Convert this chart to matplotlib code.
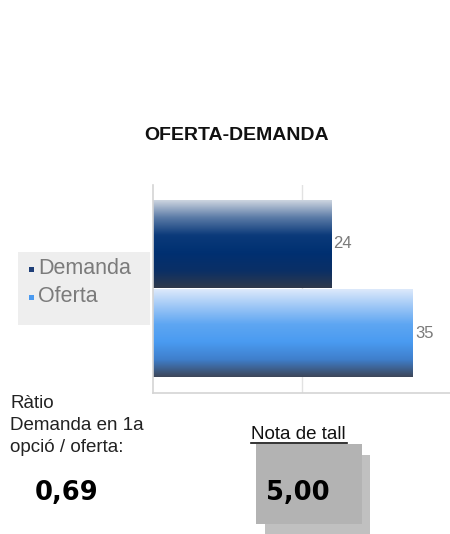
import numpy as np
import matplotlib.pyplot as plt
from matplotlib.colors import LinearSegmentedColormap
from matplotlib.patches import Rectangle
from matplotlib.lines import Line2D

plt.rcParams["font.family"] = ["Liberation Sans", "DejaVu Sans"]

# data
categories = ["Oferta", "Demanda"]  # bottom to top
values = [35, 24]
legend_labels = ["Demanda", "Oferta"]
title = "OFERTA-DEMANDA"
ratio_lines = ["Ràtio", "Demanda en 1a", "opció / oferta:"]
ratio_value = "0,69"
cutoff_label = "Nota de tall"
cutoff_value = "5,00"

W, H = 450, 534
fig = plt.figure(figsize=(W / 100, H / 100), dpi=100)


def fx(px):
    return px / W


def fy(py):
    return 1 - py / H


# gradients for the bars (top -> bottom)
grad_cols = {
    "Demanda": ["#cdd5e0", "#5a7aa6", "#0b3a7a", "#003071", "#0a2f66", "#2f394b"],
    "Oferta": ["#dde9fb", "#9cc6f6", "#5ea6f2", "#4a9bf1", "#3f7fcc", "#3d4659"],
}
marker_cols = {"Demanda": "#1f3f78", "Oferta": "#4a9af0"}

ax = fig.add_axes([fx(153), fy(393), 1 - fx(153), fy(185) - fy(393)])
bars = ax.barh(range(len(categories)), values, height=0.98, color="none")

for cat, bar in zip(categories, bars):
    cmap = LinearSegmentedColormap.from_list(cat, grad_cols[cat])
    g = np.linspace(0, 1, 256).reshape(-1, 1)
    x0, y0 = bar.get_x(), bar.get_y()
    ax.imshow(g, cmap=cmap, aspect="auto", interpolation="bicubic",
              extent=[x0, x0 + bar.get_width(), y0, y0 + bar.get_height()],
              origin="upper", zorder=2)
    ax.text(bar.get_width() + 0.3, y0 + bar.get_height() / 2, f"{bar.get_width():g}",
            va="center", ha="left", fontsize=12, color="#7a7a7a")

ax.set_xlim(0, 40)
ax.set_ylim(-0.665, 1.659)
ax.set_xticks([20])
ax.set_yticks([])
ax.tick_params(length=0, labelbottom=False)
ax.grid(axis="x", color="#e2e2e2", lw=1, zorder=0)
for s in ["top", "right"]:
    ax.spines[s].set_visible(False)
for s in ["left", "bottom"]:
    ax.spines[s].set_color("#d4d4d4")
    ax.spines[s].set_linewidth(1.2)

# title
fig.text(fx(237), fy(135), title, ha="center", va="center", fontsize=14,
         fontweight="bold", color="#111111")

# legend box
fig.add_artist(Rectangle((fx(18), fy(325)), fx(132), fy(252) - fy(325),
                         transform=fig.transFigure, facecolor="#eeeeee",
                         edgecolor="none"))
for i, lab in enumerate(legend_labels):
    yy = 269 + i * 28
    fig.add_artist(Rectangle((fx(28.5), fy(yy + 2.5)), fx(5), fy(yy - 2.5) - fy(yy + 2.5),
                             transform=fig.transFigure,
                             facecolor=marker_cols[lab], edgecolor="none"))
    fig.text(fx(38), fy(yy), lab, ha="left", va="center", fontsize=15.5,
             color="#7b7b7b")

# ratio block, one line at a time
for i, line in enumerate(ratio_lines):
    fig.text(fx(10), fy(408 + i * 22), line, ha="left", va="baseline",
             fontsize=13.5, color="#222222")
fig.text(fx(67), fy(493), ratio_value, ha="center", va="center", fontsize=18.5,
         fontweight="bold", family="DejaVu Sans", color="#000000")

# cutoff block
fig.add_artist(Rectangle((fx(265), fy(540)), fx(105), fy(455) - fy(540),
                         transform=fig.transFigure, facecolor="#c0c0c0",
                         edgecolor="none"))
fig.add_artist(Rectangle((fx(256), fy(524)), fx(106), fy(444) - fy(524),
                         transform=fig.transFigure, facecolor="#b3b3b3",
                         edgecolor="none"))
fig.text(fx(251), fy(439), cutoff_label, ha="left", va="baseline", fontsize=13.5,
         color="#111111")
fig.add_artist(Line2D([fx(251), fx(347)], [fy(442.5), fy(442.5)],
                      transform=fig.transFigure, color="#111111", lw=1.2))
fig.text(fx(298), fy(493), cutoff_value, ha="center", va="center", fontsize=18.5,
         fontweight="bold", family="DejaVu Sans", color="#000000")

fig.savefig("out.png", dpi=100)
